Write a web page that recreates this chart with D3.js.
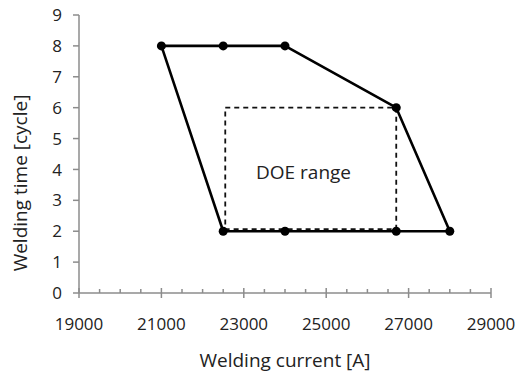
<!DOCTYPE html>
<html>
<head>
<meta charset="utf-8">
<script src="https://cdn.jsdelivr.net/npm/d3@7"></script>
<style>
  html, body { margin: 0; padding: 0; background: #fff; }
  svg { display: block; }
  text { font-family: "Open Sans", "Noto Sans", sans-serif; fill: #222; }
</style>
</head>
<body>
<svg id="chart" width="525" height="374"></svg>
<script>
// Operating window boundary (welding current [A], welding time [cycle])
const boundaryCurrent = [21000, 22500, 24000, 26700, 28000, 26700, 24000, 22500];
const boundaryTime    = [8, 8, 8, 6, 2, 2, 2, 2];

// DOE range rectangle corners
const doeCurrent = [22550, 26700];
const doeTime    = [2.07, 6];
const doeLabel   = "DOE range";
const doeLabelAt = [24450, 3.9];

// Axis ticks
const xTicks = [19000, 21000, 23000, 25000, 27000, 29000];
const xMinorTicks = d3.range(19500, 29000, 500).filter(v => v % 2000 !== 1000);
const yTicks = [0, 1, 2, 3, 4, 5, 6, 7, 8, 9];

const svg = d3.select("#chart");
const margin = { left: 79, top: 15, right: 34, bottom: 81 };
const W = 525, H = 374;

const x = d3.scaleLinear().domain([19000, 29000]).range([margin.left, W - margin.right]);
const y = d3.scaleLinear().domain([0, 9]).range([H - margin.bottom, margin.top]);

const axisColor = "#8c8c8c";

// X axis: major ticks cross the line, minor ticks sit above it
const xAxisG = svg.append("g").attr("transform", `translate(0,${y(0)})`);
xAxisG.append("line")
  .attr("x1", x(19000)).attr("x2", x(29000))
  .attr("stroke", axisColor).attr("stroke-width", 1.5);
xAxisG.selectAll("line.major").data(xTicks).join("line")
  .attr("class", "major")
  .attr("x1", d => x(d)).attr("x2", d => x(d))
  .attr("y1", -5).attr("y2", 5)
  .attr("stroke", axisColor).attr("stroke-width", 1.5);
xAxisG.selectAll("line.minor").data(xMinorTicks).join("line")
  .attr("class", "minor")
  .attr("x1", d => x(d)).attr("x2", d => x(d))
  .attr("y1", -4).attr("y2", 0)
  .attr("stroke", axisColor).attr("stroke-width", 1.5);
xAxisG.selectAll("text").data(xTicks).join("text")
  .attr("x", d => x(d)).attr("y", 37)
  .attr("text-anchor", "middle")
  .attr("font-size", 17)
  .text(d => d);

// Y axis
const yAxisG = svg.append("g").attr("transform", `translate(${x(19000)},0)`);
yAxisG.append("line")
  .attr("y1", y(0)).attr("y2", y(9))
  .attr("stroke", axisColor).attr("stroke-width", 1.5);
yAxisG.selectAll("line.tick").data(yTicks).join("line")
  .attr("class", "tick")
  .attr("x1", -6).attr("x2", 0)
  .attr("y1", d => y(d)).attr("y2", d => y(d))
  .attr("stroke", axisColor).attr("stroke-width", 1.5);
yAxisG.selectAll("text").data(yTicks).join("text")
  .attr("x", -17).attr("y", d => y(d))
  .attr("dy", "0.36em")
  .attr("text-anchor", "end")
  .attr("font-size", 17)
  .text(d => d);

// Axis titles
svg.append("text")
  .attr("x", 285).attr("y", 367)
  .attr("text-anchor", "middle").attr("font-size", 19)
  .text("Welding current [A]");
svg.append("text")
  .attr("transform", `translate(27,183) rotate(-90)`)
  .attr("text-anchor", "middle").attr("font-size", 19)
  .text("Welding time [cycle]");

// DOE range (dashed rectangle)
svg.append("rect")
  .attr("x", x(doeCurrent[0])).attr("y", y(doeTime[1]))
  .attr("width", x(doeCurrent[1]) - x(doeCurrent[0]))
  .attr("height", y(doeTime[0]) - y(doeTime[1]))
  .attr("fill", "none").attr("stroke", "#111")
  .attr("stroke-width", 1.8).attr("stroke-dasharray", "5,4");
svg.append("text")
  .attr("x", x(doeLabelAt[0])).attr("y", y(doeLabelAt[1]))
  .attr("dy", "0.36em")
  .attr("text-anchor", "middle").attr("font-size", 19)
  .text(doeLabel);

// Boundary polygon and vertex markers
const pts = boundaryCurrent.map((c, i) => [c, boundaryTime[i]]);
const line = d3.line().x(d => x(d[0])).y(d => y(d[1])).curve(d3.curveLinearClosed);
svg.append("path")
  .attr("d", line(pts))
  .attr("fill", "none").attr("stroke", "#000")
  .attr("stroke-width", 2.6).attr("stroke-linejoin", "round");
svg.selectAll("circle.vertex").data(pts).join("circle")
  .attr("class", "vertex")
  .attr("cx", d => x(d[0])).attr("cy", d => y(d[1]))
  .attr("r", 4.5).attr("fill", "#000");
</script>
</body>
</html>
